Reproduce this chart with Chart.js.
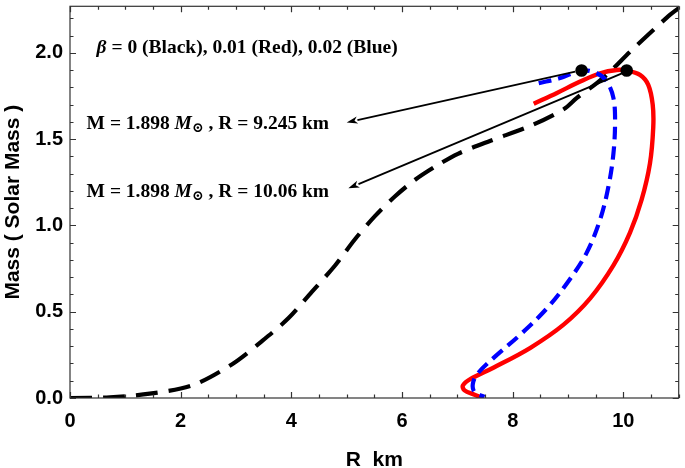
<!DOCTYPE html>
<html>
<head>
<meta charset="utf-8">
<script src="https://cdn.jsdelivr.net/npm/chart.js@4.4.0/dist/chart.umd.min.js"></script>
<style>
html, body { margin: 0; padding: 0; background: #fff; }
</style>
</head>
<body>
<canvas id="chartMR" width="685" height="468"></canvas>
<script>
// beta = 0 (black, dashed)
var rBlack = [0, 0.72, 1.44, 2.21, 2.93, 3.47, 3.95, 4.37, 4.79, 5.15, 5.51, 5.87, 6.23, 6.59, 7.01, 7.6, 8.32, 8.92, 9.16, 9.52, 9.76, 10.12, 10.79, 11.0]
var mBlack = [0, 0.004, 0.025, 0.073, 0.196, 0.33, 0.463, 0.615, 0.768, 0.92, 1.054, 1.168, 1.263, 1.339, 1.415, 1.491, 1.577, 1.673, 1.739, 1.825, 1.891, 2.006, 2.206, 2.26]
// beta = 0.01 (red)
var rRed = [8.38, 8.8, 9.22, 9.58, 9.88, 10.06, 10.3, 10.45, 10.53, 10.54, 10.48, 10.33, 10.12, 9.82, 9.4, 8.92, 8.32, 7.66, 7.24, 7.1, 7.13, 7.31, 7.45]
var mRed = [1.705, 1.768, 1.834, 1.882, 1.901, 1.898, 1.873, 1.815, 1.701, 1.568, 1.358, 1.149, 0.958, 0.768, 0.577, 0.425, 0.291, 0.177, 0.111, 0.073, 0.044, 0.019, 0]
// beta = 0.02 (blue, dashed)
var rBlue = [8.47, 8.86, 9.245, 9.52, 9.7, 9.82, 9.85, 9.82, 9.73, 9.58, 9.34, 9.04, 8.62, 8.14, 7.66, 7.36, 7.28, 7.31, 7.49]
var mBlue = [1.825, 1.854, 1.898, 1.882, 1.834, 1.739, 1.606, 1.415, 1.225, 1.034, 0.844, 0.691, 0.52, 0.368, 0.234, 0.139, 0.082, 0.034, 0.006]
// maximum mass points
var maxR = [9.245, 10.06]
var maxM = [1.898, 1.898]
// arrows: from the max points to the labels
var arrowFromR = [9.13, 10.04]
var arrowFromM = [1.892, 1.89]
var arrowToR = [5.0, 5.03]
var arrowToM = [1.597, 1.215]

var xMajor = [0, 2, 4, 6, 8, 10]
var yMajor = [0, 0.5, 1.0, 1.5, 2.0]

function toPoints(xs, ys){
    return xs.map(function(x, i){ return {x: x, y: ys[i]} })
}

var serif = '"Liberation Serif", "DejaVu Serif", serif'
var notes = [
    {r: 0.48, m: 2.027, runs: [['β', 'italic'], [' = 0 (Black), 0.01 (Red), 0.02 (Blue)', '']]},
    {r: 0.3, m: 1.587, runs: [['M = 1.898 ', ''], ['M', 'italic'], ['⊙', 'sub'], [' , R = 9.245 km', '']]},
    {r: 0.3, m: 1.193, runs: [['M = 1.898 ', ''], ['M', 'italic'], ['⊙', 'sub'], [' , R = 10.06 km', '']]}
]

function drawRuns(ctx, x, y, runs, size){
    runs.forEach(function(run){
        let dy = 0
        if (run[1] == 'sub') {
            ctx.font = 'bold ' + Math.round(size * 0.72) + 'px ' + serif
            dy = size * 0.22
        } else if (run[1] == 'italic') {
            ctx.font = 'italic bold ' + size + 'px ' + serif
        } else {
            ctx.font = 'bold ' + size + 'px ' + serif
        }
        ctx.fillText(run[0], x, y + dy)
        x += ctx.measureText(run[0]).width
    })
}

var framePlugin = {
    id: 'frameTicks',
    afterDatasetsDraw: function(chart){
        let ctx = chart.ctx
        let a = chart.chartArea
        let xs = chart.scales.x
        let ys = chart.scales.y
        ctx.save()
        // arrows
        ctx.strokeStyle = '#000'
        ctx.fillStyle = '#000'
        ctx.lineWidth = 1.8
        for (let i = 0; i < arrowFromR.length; i++) {
            let x0 = xs.getPixelForValue(arrowFromR[i]), y0 = ys.getPixelForValue(arrowFromM[i])
            let x1 = xs.getPixelForValue(arrowToR[i]), y1 = ys.getPixelForValue(arrowToM[i])
            let ang = Math.atan2(y1 - y0, x1 - x0)
            let hl = 11, hw = 3.6
            let bx = x1 - hl * Math.cos(ang), by = y1 - hl * Math.sin(ang)
            ctx.beginPath()
            ctx.moveTo(x0, y0)
            ctx.lineTo(bx, by)
            ctx.stroke()
            ctx.beginPath()
            ctx.moveTo(x1, y1)
            ctx.lineTo(bx + hw * Math.sin(ang), by - hw * Math.cos(ang))
            ctx.lineTo(bx + 3 * Math.cos(ang), by + 3 * Math.sin(ang))
            ctx.lineTo(bx - hw * Math.sin(ang), by + hw * Math.cos(ang))
            ctx.closePath()
            ctx.fill()
        }
        // text notes
        ctx.textBaseline = 'middle'
        ctx.textAlign = 'left'
        notes.forEach(function(n){
            drawRuns(ctx, xs.getPixelForValue(n.r), ys.getPixelForValue(n.m), n.runs, 19.5)
        })
        // frame
        ctx.strokeStyle = '#333'
        ctx.lineWidth = 1.2
        ctx.strokeRect(a.left, a.top, a.right - a.left, a.bottom - a.top)
        // ticks, pointing inward on all four sides
        ctx.beginPath()
        for (let v = 0; v <= 11.001; v += 0.5) {
            let px = Math.round(xs.getPixelForValue(v)) + 0.5
            let len = xMajor.indexOf(Math.round(v * 10) / 10) >= 0 ? 6 : 3.5
            ctx.moveTo(px, a.bottom); ctx.lineTo(px, a.bottom - len)
            ctx.moveTo(px, a.top); ctx.lineTo(px, a.top + len)
        }
        for (let v = 0; v <= 2.27; v += 0.1) {
            let py = Math.round(ys.getPixelForValue(v)) + 0.5
            let len = yMajor.indexOf(Math.round(v * 10) / 10) >= 0 ? 6 : 3.5
            ctx.moveTo(a.left, py); ctx.lineTo(a.left + len, py)
            ctx.moveTo(a.right, py); ctx.lineTo(a.right - len, py)
        }
        ctx.stroke()
        ctx.restore()
    }
}

var sans = '"Liberation Sans", Arial, sans-serif'
Chart.defaults.color = '#000'

var ctx = document.getElementById('chartMR')
var chartMR = new Chart(ctx, {
    type: 'scatter',
    data: {
        datasets: [{
            label: 'max',
            data: toPoints(maxR, maxM),
            pointRadius: 6.3,
            pointBackgroundColor: '#000',
            pointBorderWidth: 0,
            showLine: false,
            order: 0
        }, {
            label: 'beta 0.02',
            data: toPoints(rBlue, mBlue),
            showLine: true,
            borderColor: '#0000ff',
            borderWidth: 4.2,
            borderDash: [13, 7],
            pointRadius: 0,
            tension: 0.35,
            order: 1
        }, {
            label: 'beta 0.01',
            data: toPoints(rRed, mRed),
            showLine: true,
            borderColor: '#ff0000',
            borderWidth: 4.4,
            pointRadius: 0,
            tension: 0.35,
            order: 2
        }, {
            label: 'beta 0',
            data: toPoints(rBlack, mBlack),
            showLine: true,
            borderColor: '#000',
            borderWidth: 4.2,
            borderDash: [22, 11],
            pointRadius: 0,
            tension: 0.3,
            order: 3
        }]
    },
    options: {
        responsive: false,
        animation: false,
        layout: { padding: { top: 1, right: 3, left: 0, bottom: 0 } },
        plugins: {
            legend: { display: false },
            tooltip: { enabled: false }
        },
        scales: {
            x: {
                type: 'linear',
                min: 0,
                max: 11,
                afterBuildTicks: function(scale){
                    scale.ticks = xMajor.map(function(v){ return {value: v} })
                },
                afterFit: function(scale){
                    scale.height = 70
                    scale.paddingLeft = 0
                    scale.paddingRight = 0
                },
                grid: { display: false, drawTicks: false },
                border: { display: false },
                ticks: {
                    padding: 11,
                    font: { family: sans, weight: 'bold', size: 20 },
                    callback: function(val){ return val }
                },
                title: {
                    display: true,
                    text: 'R  km',
                    font: { family: sans, weight: 'bold', size: 21, lineHeight: 0.7 },
                    padding: 0
                }
            },
            y: {
                type: 'linear',
                min: 0,
                max: 2.27,
                afterBuildTicks: function(scale){
                    scale.ticks = yMajor.map(function(v){ return {value: v} })
                },
                afterFit: function(scale){
                    scale.width = 70
                    scale.paddingTop = 0
                    scale.paddingBottom = 0
                },
                grid: { display: false, drawTicks: false },
                border: { display: false },
                ticks: {
                    padding: 7,
                    font: { family: sans, weight: 'bold', size: 20 },
                    callback: function(val){ return val.toFixed(1) }
                },
                title: {
                    display: true,
                    text: 'Mass ( Solar Mass )',
                    font: { family: sans, weight: 'bold', size: 21 },
                    padding: 1
                }
            }
        }
    },
    plugins: [framePlugin]
});
</script>
</body>
</html>
